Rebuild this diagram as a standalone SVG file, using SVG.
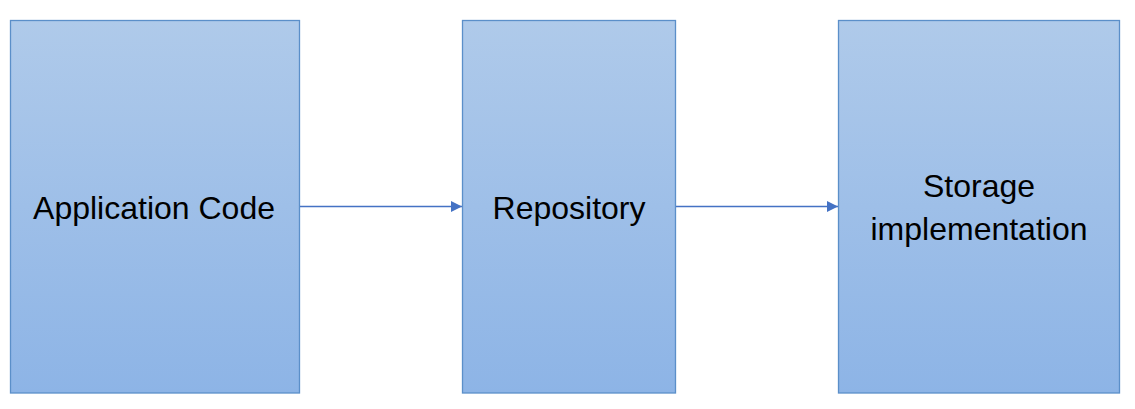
<svg xmlns="http://www.w3.org/2000/svg" width="1135" height="409" viewBox="0 0 1135 409">
<defs>
<linearGradient id="g" x1="0" y1="0" x2="0" y2="1">
<stop offset="0" stop-color="#afcaea"/>
<stop offset="1" stop-color="#8db4e6"/>
</linearGradient>
<marker id="arr" viewBox="0 0 10 10" refX="10" refY="5" markerWidth="11" markerHeight="11" markerUnits="userSpaceOnUse" orient="auto">
<path d="M0,0 L10,5 L0,10 z" fill="#4472c4"/>
</marker>
<style>
.box{fill:url(#g);stroke:#5b8fc9;stroke-width:1.3}
.t{font-family:"Liberation Sans",Arial,sans-serif;font-size:32px;fill:#000;text-anchor:middle}
.c{stroke:#4472c4;stroke-width:1.3;fill:none}
</style>
</defs>
<rect width="1135" height="409" fill="#fff"/>
<g id="app">
<rect class="box" x="10.5" y="20.5" width="289" height="372.5"/>
<text class="t" x="154" y="219">Application Code</text>
</g>
<g id="repo">
<rect class="box" x="462.5" y="20.5" width="213" height="372.5"/>
<text class="t" x="569" y="219">Repository</text>
</g>
<g id="storage">
<rect class="box" x="838.5" y="20.5" width="281" height="372.5"/>
<text class="t" x="979" y="197">Storage</text>
<text class="t" x="979" y="240">implementation</text>
</g>
<g id="connectors">
<line class="c" x1="300" y1="206.5" x2="462" y2="206.5" marker-end="url(#arr)"/>
<line class="c" x1="676" y1="206.5" x2="838" y2="206.5" marker-end="url(#arr)"/>
</g>
</svg>
